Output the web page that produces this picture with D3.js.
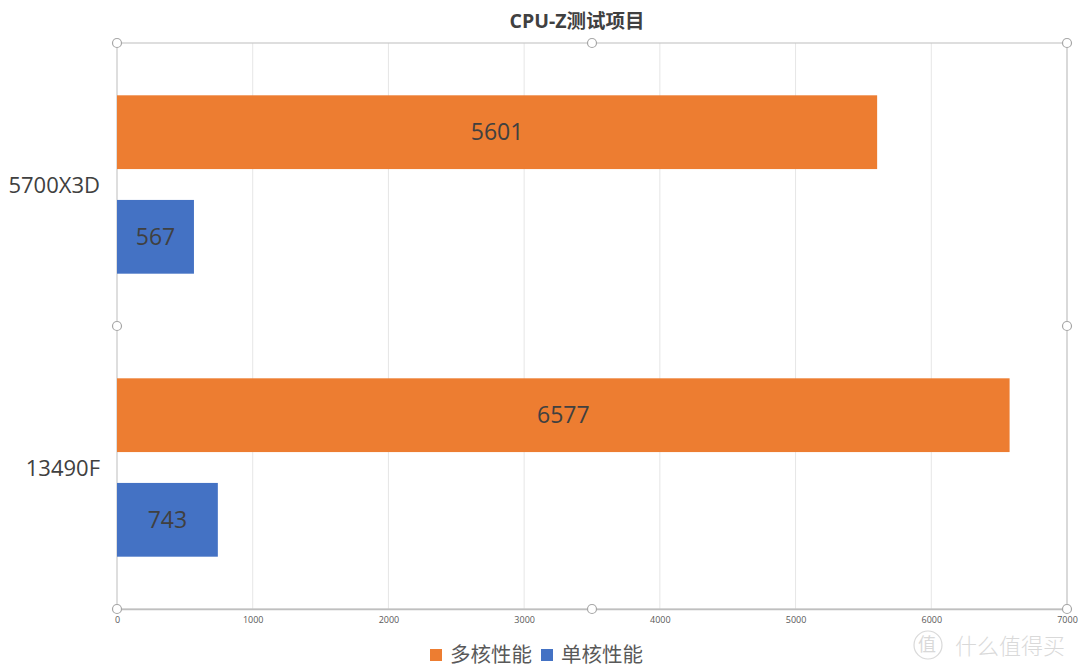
<!DOCTYPE html>
<html><head><meta charset="utf-8">
<script src="https://cdn.jsdelivr.net/npm/d3@7"></script>
<style>body{margin:0;background:#fff;}svg{display:block;}</style>
</head><body>
<svg id="c" width="1080" height="671"></svg>
<script>
const categories = ["5700X3D", "13490F"];
const seriesNames = ["多核性能", "单核性能"];
const multiCore = [5601, 6577];
const singleCore = [567, 743];
const xTicks = [0, 1000, 2000, 3000, 4000, 5000, 6000, 7000];
const colors = ["#ED7D31", "#4472C4"];
const title = "CPU-Z测试项目";

const svg = d3.select("#c");
const m = {l:117, r:1067, t:43, b:609};
const font = "'Open Sans','Noto Sans CJK SC',sans-serif";

const x = d3.scaleLinear().domain([0, 7000]).range([m.l, m.r]);
const y0 = d3.scaleBand().domain(categories).range([m.t, m.b]).paddingInner(0).paddingOuter(0);
const y1 = d3.scaleBand().domain(seriesNames).range([0, y0.bandwidth()]).paddingInner(0.295).paddingOuter(0.5);

// gridlines
svg.append("g").selectAll("line").data(xTicks.slice(1)).join("line")
  .attr("x1", d=>x(d)).attr("x2", d=>x(d)).attr("y1", m.t).attr("y2", m.b)
  .attr("stroke", "#e6e6e6").attr("stroke-width", 1);

// frame
svg.append("rect").attr("x", m.l).attr("y", m.t).attr("width", m.r-m.l).attr("height", m.b-m.t)
  .attr("fill", "none").attr("stroke", "#c8c8c8").attr("stroke-width", 1.2);

// bars
const data = [];
categories.forEach((c,i)=>{
  data.push({cat:c, s:seriesNames[0], v:multiCore[i], col:colors[0]});
  data.push({cat:c, s:seriesNames[1], v:singleCore[i], col:colors[1]});
});
const bars = svg.append("g");
bars.selectAll("rect").data(data).join("rect")
  .attr("x", x(0)).attr("y", d=>y0(d.cat)+y1(d.s))
  .attr("width", d=>x(d.v)-x(0)).attr("height", y1.bandwidth())
  .attr("fill", d=>d.col);
bars.selectAll("text").data(data).join("text")
  .attr("x", d=>(x(0)+x(d.v))/2).attr("y", d=>y0(d.cat)+y1(d.s)+y1.bandwidth()/2)
  .attr("dy", "0.35em").attr("text-anchor", "middle")
  .attr("font-family", font).attr("font-size", 23).attr("fill", "#404040")
  .text(d=>d.v);

// x axis
const xa = svg.append("g").attr("transform", `translate(0,${m.b})`)
  .call(d3.axisBottom(x).tickValues(xTicks).tickFormat(d3.format("d")).tickSize(0).tickPadding(8));
xa.select(".domain").attr("stroke", "#bfbfbf").attr("stroke-width", 1.5);
xa.selectAll("text").attr("font-family", font).attr("font-size", 9).attr("fill", "#595959");

// y axis labels
svg.append("g").selectAll("text").data(categories).join("text")
  .attr("x", 100).attr("y", d=>y0(d)+y0.bandwidth()/2 + 1)
  .attr("dy", "0.35em").attr("text-anchor", "end")
  .attr("font-family", font).attr("font-size", 22).attr("fill", "#404040")
  .text(d=>d);

// selection handles
const hx = [m.l, (m.l+m.r)/2, m.r], hy = [m.t, (m.t+m.b)/2, m.b];
const handles = [];
hx.forEach(a=>hy.forEach(b=>{ if(!(a===hx[1] && b===hy[1])) handles.push([a,b]); }));
svg.append("g").selectAll("circle").data(handles).join("circle")
  .attr("cx", d=>d[0]).attr("cy", d=>d[1]).attr("r", 4.5)
  .attr("fill", "#fff").attr("stroke", "#a6a6a6").attr("stroke-width", 1.2);

// title
svg.append("text").attr("x", 577).attr("y", 21).attr("dy", "0.35em").attr("text-anchor", "middle")
  .attr("font-family", font).attr("font-size", 19.5).attr("font-weight", "bold").attr("fill", "#404040")
  .text(title);

// legend
const lg = svg.append("g");
const legendItems = [{n:seriesNames[0], c:colors[0], x:430}, {n:seriesNames[1], c:colors[1], x:541}];
lg.selectAll("rect").data(legendItems).join("rect")
  .attr("x", d=>d.x).attr("y", 649).attr("width", 12).attr("height", 12).attr("fill", d=>d.c);
lg.selectAll("text").data(legendItems).join("text")
  .attr("x", d=>d.x+20).attr("y", 655).attr("dy", "0.35em")
  .attr("font-family", "'Noto Sans CJK SC',sans-serif").attr("font-size", 20.5).attr("fill", "#595959")
  .text(d=>d.n);

// watermark
const wm = svg.append("g").attr("opacity", 0.55);
wm.append("circle").attr("cx", 928).attr("cy", 645).attr("r", 14).attr("fill", "none").attr("stroke", "#bbb").attr("stroke-width", 1.2);
wm.append("text").attr("x", 927).attr("y", 645).attr("dy", "0.35em").attr("text-anchor", "middle")
  .attr("font-family", "'Noto Sans CJK SC',sans-serif").attr("font-size", 18).attr("fill", "#bbb").text("值");
wm.append("text").attr("x", 955).attr("y", 646).attr("dy", "0.35em")
  .attr("font-family", "'Noto Sans CJK SC',sans-serif").attr("font-size", 22).attr("font-weight", 300).attr("fill", "#bbb").text("什么值得买");
</script>
</body></html>
